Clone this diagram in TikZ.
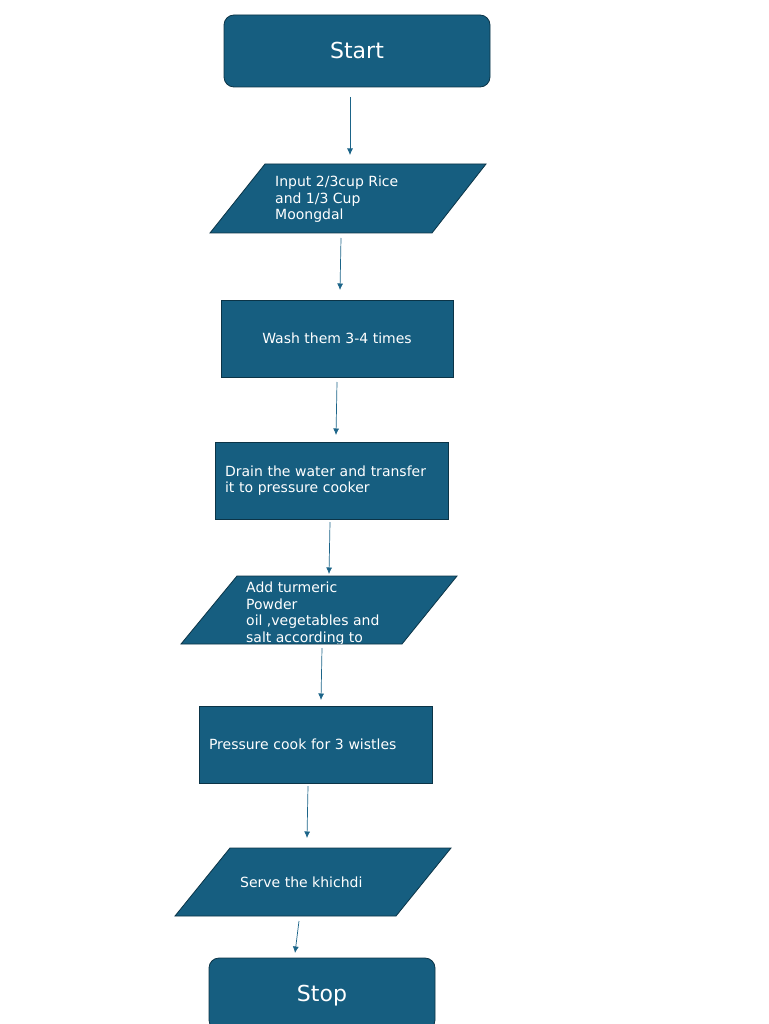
\documentclass[tikz,border=0pt]{standalone}
\usepackage{fontspec}
\setmainfont{DejaVu Sans}
\usetikzlibrary{arrows.meta}
\definecolor{boxfill}{HTML}{165E80}
\definecolor{boxline}{HTML}{0B3447}
\definecolor{arrowcol}{HTML}{1B6488}
\begin{document}
\begin{tikzpicture}[x=1pt,y=-1pt,
  shapebox/.style={fill=boxfill, draw=boxline, line width=0.8pt},
  terminal/.style={shapebox, rounded corners=10pt, text=white, font=\fontsize{22}{26}\selectfont, inner sep=0pt},
  procbox/.style={shapebox, text=white, font=\fontsize{14}{16.5}\selectfont, minimum height=77pt},
  smalltext/.style={text=white, font=\fontsize{14}{16.7}\selectfont, inner sep=0pt, align=left},
  bigtext/.style={text=white, font=\fontsize{22}{26}\selectfont, inner sep=0pt},
  conn/.style={draw=arrowcol, line width=0.7pt, -{Latex[length=6.5pt,width=6pt]}}]
\useasboundingbox (0,0) rectangle (768,1024);

% Start
\node[terminal, minimum width=266pt, minimum height=72pt] (start) at (357,51) {};
\node[bigtext] (starttext) at (357,50) {Start};

% Input parallelogram
\draw[shapebox] (265,164) -- (486,164) -- (432,233) -- (210,233) -- cycle;
\node[smalltext, anchor=north west] (p1text) at (275,175.5) {Input 2/3cup Rice\\and 1/3 Cup\\Moongdal};

% Wash
\node[procbox, minimum width=232pt, inner sep=0pt] (wash) at (337,338.5) {Wash them 3-4 times};

% Drain
\node[procbox, text width=213pt, inner xsep=10pt, inner ysep=0pt, align=left] (drain) at (331.5,480.5) {Drain the water and transfer\\it to pressure cooker};

% Add turmeric parallelogram (text clipped)
\draw[shapebox] (237,576) -- (457,576) -- (402,644) -- (181,644) -- cycle;
\begin{scope}
  \clip (237,576) -- (457,576) -- (402,643) -- (181,643) -- cycle;
  \node[smalltext, anchor=north west] (p2text) at (246,581.5) {Add turmeric\\Powder\\oil ,vegetables and\\salt according to\\taste};
\end{scope}

% Pressure cook
\node[procbox, text width=213pt, inner xsep=10pt, inner ysep=0pt, align=left] (cook) at (315.5,744.5) {Pressure cook for 3 wistles};

% Serve parallelogram
\draw[shapebox] (230,848) -- (451,848) -- (396,916) -- (175,916) -- cycle;
\node[smalltext, anchor=west] (p3text) at (240,882) {Serve the khichdi};

% Stop
\node[terminal, minimum width=226pt, minimum height=72pt] (stop) at (322,994) {};
\node[bigtext] (stoptext) at (322,995.5) {Stop};

% connectors
\coordinate (a1s) at (350,97);  \coordinate (a1e) at (350,155);
\coordinate (a2s) at (341,238); \coordinate (a2e) at (340,290);
\coordinate (a3s) at (337,382); \coordinate (a3e) at (336,435);
\coordinate (a4s) at (330,522); \coordinate (a4e) at (329,574);
\coordinate (a5s) at (322,648); \coordinate (a5e) at (321,700);
\coordinate (a6s) at (308,786); \coordinate (a6e) at (307,838);
\coordinate (a7s) at (299,921); \coordinate (a7e) at (295,953);
\draw[conn] (a1s) -- (a1e);
\draw[conn] (a2s) -- (a2e);
\draw[conn] (a3s) -- (a3e);
\draw[conn] (a4s) -- (a4e);
\draw[conn] (a5s) -- (a5e);
\draw[conn] (a6s) -- (a6e);
\draw[conn] (a7s) -- (a7e);
\end{tikzpicture}
\end{document}
